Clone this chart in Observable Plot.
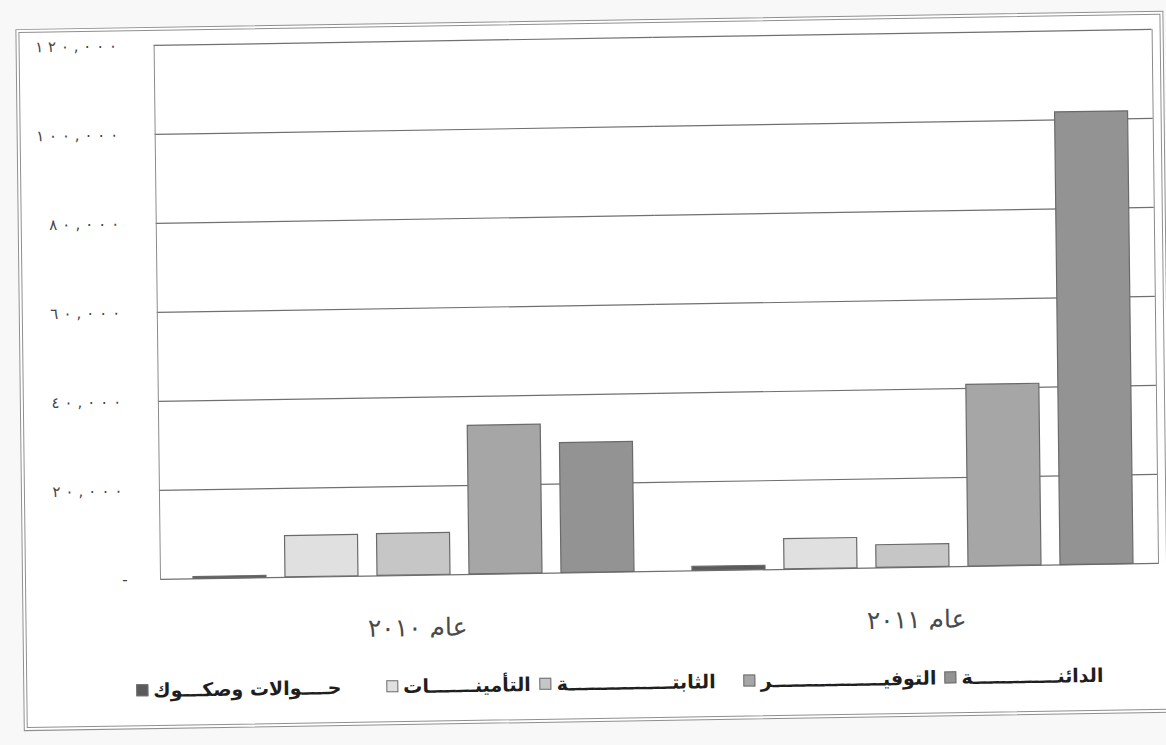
<!DOCTYPE html>
<html lang="ar">
<head>
<meta charset="utf-8">
<script src="https://cdn.jsdelivr.net/npm/d3@7"></script>
<script src="https://cdn.jsdelivr.net/npm/@observablehq/plot@0.6"></script>
<style>
  html, body { margin: 0; padding: 0; background: #f8f8f8; overflow: hidden; width: 1166px; height: 745px; }
  #page {
    position: absolute; left: 0; top: 0; width: 1166px; height: 745px;
    transform-origin: 155px 579px; transform: matrix(1, -0.016, 0.012, 1, 0, 0);
  }
  #frame {
    position: absolute; left: 22px; top: 27px; width: 1148px; height: 702px;
    border: 4px double #8f8f8f; background: #fff; box-sizing: border-box;
  }
  #chart { position: absolute; left: 0; top: 27px; }
  #legend {
    position: absolute; left: 100px; top: 676px; width: 1002px; height: 28px;
    direction: rtl; display: flex; justify-content: flex-start; align-items: center;
    font-family: "DejaVu Sans", sans-serif; font-weight: bold; font-size: 19px; color: #1e1e1e;
  }
  #legend .item { display: flex; align-items: center; gap: 5px; white-space: nowrap; }
  #legend .item:nth-child(1) { margin-left: 8px; }
  #legend .item:nth-child(2) { margin-left: 28px; }
  #legend .item:nth-child(3) { margin-left: 9px; }
  #legend .item:nth-child(4) { margin-left: 45px; }
  #legend .sw { width: 10px; height: 10px; border: 1px solid #6f6f6f; display: inline-block; }
</style>
</head>
<body>
<div id="page">
  <div id="frame"></div>
  <div id="chart"></div>
  <div id="legend"></div>
</div>
<script>
// ---- data ----
const years = ["عام ٢٠١٠", "عام ٢٠١١"];
const series = ["حوالات وصكوك", "التأمينات", "الثابتة", "التوفير", "الدائنة"];
const values2010 = [400, 9300, 9400, 33400, 29200];
const values2011 = [900, 6800, 5100, 40800, 101700];
const legendLabels = [
  "حــــوالات وصكـــوك",
  "التأمينـــــــات",
  "الثابتــــــــــــــــة",
  "التوفيـــــــــــــــــر",
  "الدائنـــــــــــــة"
];
const seriesColors = ["#5a5a5a", "#e0e0e0", "#c6c6c6", "#a6a6a6", "#939393"];
const yTicks = [0, 20000, 40000, 60000, 80000, 100000, 120000];

const arabicDigits = "٠١٢٣٤٥٦٧٨٩";
const toArabic = s => String(s).replace(/[0-9]/g, d => arabicDigits[+d]);
const yFormat = d => d === 0 ? "-" : toArabic(d3.format(",")(d));
const yTickLabels = yTicks.map(yFormat);

const rows = [];
years.forEach((y, i) => {
  const vals = i === 0 ? values2010 : values2011;
  series.forEach((s, j) => rows.push({year: y, series: s, value: vals[j]}));
});

const chart = Plot.plot({
  width: 1166,
  height: 615,
  marginLeft: 160,
  marginRight: 8,
  marginTop: 18,
  marginBottom: 63,
  style: {fontFamily: "DejaVu Sans, sans-serif", background: "transparent"},
  fx: {domain: years, padding: 0, label: null, axis: null},
  x: {domain: series, paddingInner: 0.21, paddingOuter: 0.288, align: 0.56, axis: null},
  y: {domain: [0, 120000], label: null, axis: null},
  color: {domain: series, range: seriesColors},
  marks: [
    Plot.ruleY(yTicks, {stroke: "#707070", strokeWidth: 1.2}),
    Plot.frame({anchor: "left", stroke: "#8a8a8a", facet: "super"}),
    Plot.frame({anchor: "right", stroke: "#8a8a8a", facet: "super"}),
    Plot.barY(rows, {fx: "year", x: "series", y: "value", fill: "series", stroke: "#6a6a6a", strokeWidth: 1.2}),
    Plot.axisY({ticks: yTicks, tickFormat: yFormat, tickSize: 0, tickPadding: 37, fontSize: 15, fill: "#444", label: null}),
    Plot.axisFx({anchor: "bottom", tickSize: 0, tickPadding: 43, dx: 7, fontSize: 25, fill: "#4a4a4a", label: null})
  ]
});
// spread the y tick label digits as in the scanned chart
chart.querySelectorAll("text").forEach(t => {
  const s = t.textContent;
  if (yTickLabels.includes(s)) {
    if (s === "-") t.setAttribute("dx", "4");
    else { t.setAttribute("textLength", String(s.length * 12 - 2)); t.setAttribute("lengthAdjust", "spacing"); }
  }
});
document.getElementById("chart").appendChild(chart);

// legend (RTL: label then swatch)
const lg = document.getElementById("legend");
series.slice().reverse().forEach((s, k) => {
  const j = series.length - 1 - k;
  const it = document.createElement("span");
  it.className = "item";
  const lab = document.createElement("span");
  lab.textContent = legendLabels[j];
  const sw = document.createElement("span");
  sw.className = "sw";
  sw.style.background = seriesColors[j];
  it.appendChild(lab);
  it.appendChild(sw);
  lg.appendChild(it);
});
</script>
</body>
</html>
